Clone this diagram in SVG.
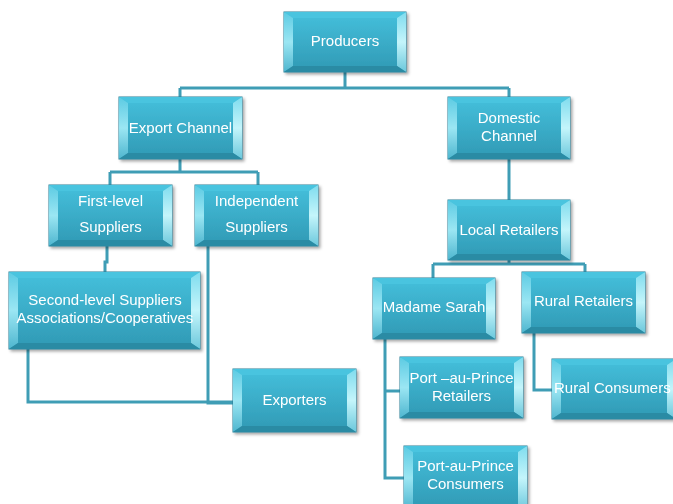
<svg xmlns="http://www.w3.org/2000/svg" width="673" height="504" viewBox="0 0 673 504">
<defs>
<linearGradient id="face" x1="0" y1="0" x2="0" y2="1">
<stop offset="0" stop-color="#45c0dc"/><stop offset="1" stop-color="#3099b4"/>
</linearGradient>
<linearGradient id="lside" x1="0" y1="0" x2="0" y2="1">
<stop offset="0" stop-color="#5ccbe3"/><stop offset="0.5" stop-color="#9be6f3"/><stop offset="1" stop-color="#4fb6cf"/>
</linearGradient>
<linearGradient id="rside" x1="0" y1="0" x2="0" y2="1">
<stop offset="0" stop-color="#7fdcee"/><stop offset="0.5" stop-color="#c4f5fb"/><stop offset="1" stop-color="#6cc8dc"/>
</linearGradient>
<filter id="sh" x="-10%" y="-10%" width="130%" height="130%">
<feDropShadow dx="2" dy="2" stdDeviation="1.5" flood-color="#000" flood-opacity="0.35"/>
</filter>
<style>
.face{fill:url(#face);stroke:#2b8097;stroke-width:1}
.t{fill:#48c4df}
.l{fill:url(#lside)}
.r{fill:url(#rside)}
.b{fill:#2a8ba4}
.lbl{font-family:"Liberation Sans",Arial,sans-serif;font-size:15px;fill:#ffffff;text-anchor:middle}
.c{fill:none;stroke:#3f9db5;stroke-width:3}
.ci{fill:none;stroke:#86cddd;stroke-width:1}
</style>
</defs>
<g id="connectors">
<path class="c" d="M345,72 V88 M180,88 H509 M180,88 V97 M509,88 V97"/>
<path class="c" d="M180,159 V172 M110,172 H258 M110,172 V185 M258,172 V185"/>
<path class="c" d="M107,246 V262 H105 V272"/>
<path class="c" d="M208,246 V403 H233"/>
<path class="c" d="M28,349 V402 H233"/>
<path class="c" d="M509,159 V200"/>
<path class="c" d="M509,260 V264 M433,264 H585 M433,264 V278 M585,264 V272"/>
<path class="c" d="M385,339 V478 H404 M385,391 H400"/>
<path class="c" d="M534,333 V390 H552"/>
</g>
<g id="producers" filter="url(#sh)">
<rect class="face" x="284" y="12" width="122" height="60"/>
<polygon class="t" points="284,12 406,12 397,18 293,18"/>
<polygon class="l" points="284,12 293,18 293,66 284,72"/>
<polygon class="r" points="406,12 406,72 397,66 397,18"/>
<polygon class="b" points="284,72 293,66 397,66 406,72"/>
<text class="lbl" x="345" y="46">Producers</text>
</g>
<g id="export-channel" filter="url(#sh)">
<rect class="face" x="119" y="97" width="123" height="62"/>
<polygon class="t" points="119,97 242,97 233,103 128,103"/>
<polygon class="l" points="119,97 128,103 128,153 119,159"/>
<polygon class="r" points="242,97 242,159 233,153 233,103"/>
<polygon class="b" points="119,159 128,153 233,153 242,159"/>
<text class="lbl" x="180.5" y="133">Export Channel</text>
</g>
<g id="domestic-channel" filter="url(#sh)">
<rect class="face" x="448" y="97" width="122" height="62"/>
<polygon class="t" points="448,97 570,97 561,103 457,103"/>
<polygon class="l" points="448,97 457,103 457,153 448,159"/>
<polygon class="r" points="570,97 570,159 561,153 561,103"/>
<polygon class="b" points="448,159 457,153 561,153 570,159"/>
<text class="lbl" x="509" y="123">Domestic</text>
<text class="lbl" x="509" y="141">Channel</text>
</g>
<g id="first-level" filter="url(#sh)">
<rect class="face" x="49" y="185" width="123" height="61"/>
<polygon class="t" points="49,185 172,185 163,191 58,191"/>
<polygon class="l" points="49,185 58,191 58,240 49,246"/>
<polygon class="r" points="172,185 172,246 163,240 163,191"/>
<polygon class="b" points="49,246 58,240 163,240 172,246"/>
<text class="lbl" x="110.5" y="206">First-level</text>
<text class="lbl" x="110.5" y="232">Suppliers</text>
</g>
<g id="independent" filter="url(#sh)">
<rect class="face" x="195" y="185" width="123" height="61"/>
<polygon class="t" points="195,185 318,185 309,191 204,191"/>
<polygon class="l" points="195,185 204,191 204,240 195,246"/>
<polygon class="r" points="318,185 318,246 309,240 309,191"/>
<polygon class="b" points="195,246 204,240 309,240 318,246"/>
<text class="lbl" x="256.5" y="206">Independent</text>
<text class="lbl" x="256.5" y="232">Suppliers</text>
</g>
<g id="local-retailers" filter="url(#sh)">
<rect class="face" x="448" y="200" width="122" height="60"/>
<polygon class="t" points="448,200 570,200 561,206 457,206"/>
<polygon class="l" points="448,200 457,206 457,254 448,260"/>
<polygon class="r" points="570,200 570,260 561,254 561,206"/>
<polygon class="b" points="448,260 457,254 561,254 570,260"/>
<text class="lbl" x="509" y="235">Local Retailers</text>
</g>
<g id="second-level" filter="url(#sh)">
<rect class="face" x="9" y="272" width="191" height="77"/>
<polygon class="t" points="9,272 200,272 191,278 18,278"/>
<polygon class="l" points="9,272 18,278 18,343 9,349"/>
<polygon class="r" points="200,272 200,349 191,343 191,278"/>
<polygon class="b" points="9,349 18,343 191,343 200,349"/>
<text class="lbl" x="105" y="305">Second-level Suppliers</text>
<text class="lbl" x="105" y="323">Associations/Cooperatives</text>
</g>
<g id="madame-sarah" filter="url(#sh)">
<rect class="face" x="373" y="278" width="122" height="61"/>
<polygon class="t" points="373,278 495,278 486,284 382,284"/>
<polygon class="l" points="373,278 382,284 382,333 373,339"/>
<polygon class="r" points="495,278 495,339 486,333 486,284"/>
<polygon class="b" points="373,339 382,333 486,333 495,339"/>
<text class="lbl" x="434" y="312">Madame Sarah</text>
</g>
<g id="rural-retailers" filter="url(#sh)">
<rect class="face" x="522" y="272" width="123" height="61"/>
<polygon class="t" points="522,272 645,272 636,278 531,278"/>
<polygon class="l" points="522,272 531,278 531,327 522,333"/>
<polygon class="r" points="645,272 645,333 636,327 636,278"/>
<polygon class="b" points="522,333 531,327 636,327 645,333"/>
<text class="lbl" x="583.5" y="306">Rural Retailers</text>
</g>
<g id="pap-retailers" filter="url(#sh)">
<rect class="face" x="400" y="357" width="123" height="61"/>
<polygon class="t" points="400,357 523,357 514,363 409,363"/>
<polygon class="l" points="400,357 409,363 409,412 400,418"/>
<polygon class="r" points="523,357 523,418 514,412 514,363"/>
<polygon class="b" points="400,418 409,412 514,412 523,418"/>
<text class="lbl" x="461.5" y="383">Port –au-Prince</text>
<text class="lbl" x="461.5" y="401">Retailers</text>
</g>
<g id="rural-consumers" filter="url(#sh)">
<rect class="face" x="552" y="359" width="124" height="60"/>
<polygon class="t" points="552,359 676,359 667,365 561,365"/>
<polygon class="l" points="552,359 561,365 561,413 552,419"/>
<polygon class="r" points="676,359 676,419 667,413 667,365"/>
<polygon class="b" points="552,419 561,413 667,413 676,419"/>
<text class="lbl" x="554" y="393" style="text-anchor:start">Rural  Consumers</text>
</g>
<g id="exporters" filter="url(#sh)">
<rect class="face" x="233" y="369" width="123" height="63"/>
<polygon class="t" points="233,369 356,369 347,375 242,375"/>
<polygon class="l" points="233,369 242,375 242,426 233,432"/>
<polygon class="r" points="356,369 356,432 347,426 347,375"/>
<polygon class="b" points="233,432 242,426 347,426 356,432"/>
<text class="lbl" x="294.5" y="405">Exporters</text>
</g>
<g id="pap-consumers" filter="url(#sh)">
<rect class="face" x="404" y="446" width="123" height="64"/>
<polygon class="t" points="404,446 527,446 518,452 413,452"/>
<polygon class="l" points="404,446 413,452 413,504 404,510"/>
<polygon class="r" points="527,446 527,510 518,504 518,452"/>
<text class="lbl" x="465.5" y="471">Port-au-Prince</text>
<text class="lbl" x="465.5" y="489">Consumers</text>
</g>
</svg>
